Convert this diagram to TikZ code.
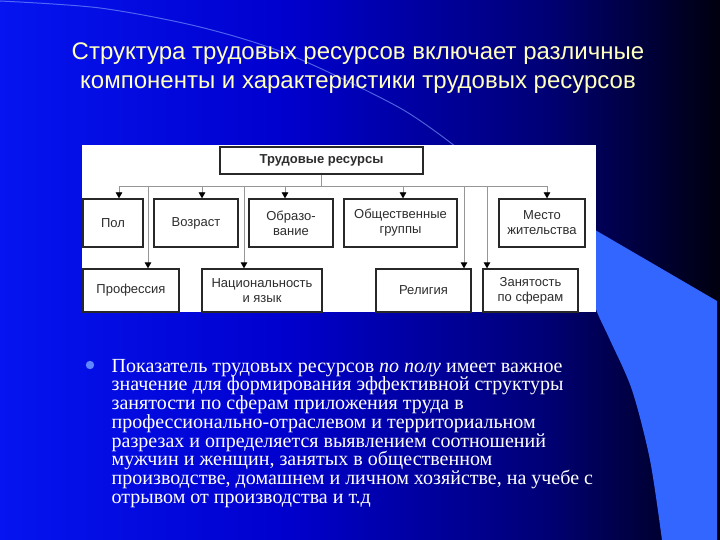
\documentclass[tikz,border=0pt]{standalone}
\usepackage{fontspec}
\setmainfont{Liberation Serif}
\setsansfont{Liberation Sans}
\usetikzlibrary{arrows.meta}

\definecolor{bgA}{RGB}{5,20,240}
\definecolor{bgB}{RGB}{0,0,205}
\definecolor{bgC}{RGB}{0,0,120}
\definecolor{bgD}{RGB}{0,0,15}
\definecolor{bandblue}{RGB}{51,102,255}
\definecolor{arcblue}{RGB}{130,160,255}
\definecolor{titleyellow}{RGB}{255,255,190}
\definecolor{boxline}{RGB}{40,40,40}
\definecolor{boxtext}{RGB}{45,45,45}
\definecolor{linkgray}{RGB}{150,150,150}
\definecolor{dotblue}{RGB}{95,135,255}

\pgfdeclarehorizontalshading{slidebg}{100bp}{color(0bp)=(bgA); color(25bp)=(bgA); color(45bp)=(bgB); color(62.5bp)=(bgC); color(75bp)=(bgD); color(100bp)=(bgD)}

\begin{document}
\begin{tikzpicture}[x=1pt,y=-1pt,>={Triangle[length=6pt,width=6.5pt,color=black]},
  box/.style={draw=boxline, line width=1.3pt, fill=white, inner sep=0pt, align=center,
    font=\sffamily\fontsize{13}{15}\selectfont, text=boxtext},
  link/.style={draw=linkgray, line width=0.8pt, ->},
  trunk/.style={draw=linkgray, line width=0.8pt},
  heading/.style={inner sep=0pt, align=center, text=titleyellow,
    font=\sffamily\fontsize{24}{29}\selectfont},
  bodytext/.style={inner sep=0pt, align=left, text=white,
    font=\fontsize{20}{18.7}\selectfont}]

\useasboundingbox (0,0) rectangle (720,540);
\shade[shading=slidebg] (0,0) rectangle (720,540);

% light band on the right and thin arc
\fill[bandblue] (578,220) -- (717,301) -- (717,540) -- plot[smooth] coordinates {(662,540) (650,460) (632,390) (610,340) (597,312) (588,285)} -- cycle;
\draw[arcblue, line width=1pt, opacity=0.6] plot[smooth] coordinates {(0,1) (100,8) (200,27) (290,55) (400,108) (460,150)};

\node[heading, anchor=north] (heading) at (358,43) {Структура трудовых ресурсов включает различные\\компоненты и характеристики трудовых ресурсов};

% chart
\fill[white] (82,145) rectangle (596,312);

\node[box, minimum width=203pt, minimum height=27pt, font=\sffamily\bfseries\fontsize{13}{15}\selectfont] (resources) at (321.5,160.5) {Трудовые ресурсы};

\node[box, minimum width=60pt, minimum height=48pt] (gender) at (113,223) {Пол};
\node[box, minimum width=84pt, minimum height=48pt] (age) at (196,223) {Возраст};
\node[box, minimum width=84pt, minimum height=48pt] (education) at (291,223) {Образо-\\вание};
\node[box, minimum width=113pt, minimum height=48pt] (groups) at (400.5,223) {Общественные\\группы};
\node[box, minimum width=86pt, minimum height=48pt] (residence) at (542,223) {Место\\жительства};

\node[box, minimum width=96pt, minimum height=43pt] (profession) at (131,290.5) {Профессия};
\node[box, minimum width=120pt, minimum height=43pt] (nationality) at (262,290.5) {Национальность\\и язык};
\node[box, minimum width=95pt, minimum height=43pt] (religion) at (423.5,290.5) {Религия};
\node[box, minimum width=95pt, minimum height=43pt] (employment) at (530.5,290.5) {Занятость\\по сферам};

\coordinate (bus) at (321.5,186);
\draw[trunk] (resources.south) -- (bus);

\draw[link] (bus) -| ([xshift=6pt]gender.north);
\draw[link] (bus) -| ([xshift=6pt]age.north);
\draw[link] (bus) -| ([xshift=-6pt]education.north);
\draw[link] (bus) -| ([xshift=2.5pt]groups.north);
\draw[link] (bus) -| ([xshift=5pt]residence.north);

\draw[link] (bus) -| ([xshift=17pt]profession.north);
\draw[link] (bus) -| ([xshift=-18pt]nationality.north);
\draw[link] (bus) -| ([xshift=40.5pt]religion.north);
\draw[link] (bus) -| ([xshift=-43.5pt]employment.north);

% bullet text
\fill[dotblue] (90,365) circle[radius=4.2pt];
\node[bodytext, anchor=north west] (note) at (111.5,359) {Показатель трудовых ресурсов \textit{по полу} имеет важное\\
значение для формирования эффективной структуры\\
занятости по сферам приложения труда в\\
профессионально-отраслевом и территориальном\\
разрезах и определяется выявлением соотношений\\
мужчин и женщин, занятых в общественном\\
производстве, домашнем и личном хозяйстве, на учебе с\\
отрывом от производства и т.д};
\end{tikzpicture}
\end{document}
